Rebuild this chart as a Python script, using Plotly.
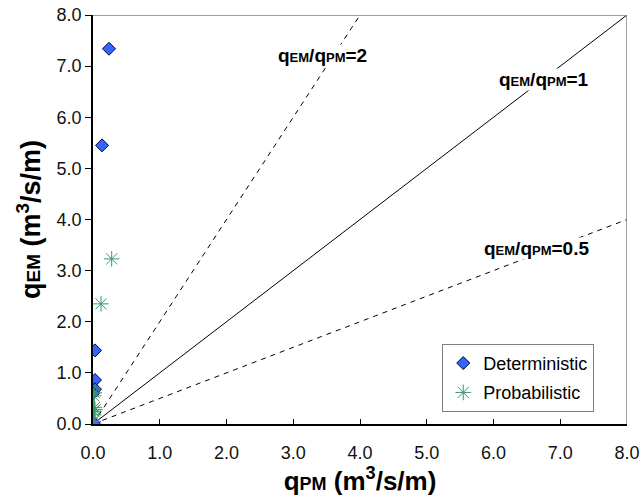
import plotly.graph_objects as go

det_x = [0.24, 0.135, 0.03, 0.03, 0.03, 0.0, 0.0, 0.01]
det_y = [7.34, 5.45, 1.44, 0.86, 0.68, 0.60, 0.0, 0.02]

prob_x = [0.28, 0.12, 0.02, 0.01, 0.02, 0.01, 0.03, 0.01, 0.0, 0.01]
prob_y = [3.23, 2.35, 0.61, 0.55, 0.32, 0.25, 0.28, 0.18, 0.05, 0.0]

ratios = [2, 1, 0.5]
ratio_dash = ["5px,5px", "solid", "5px,5px"]
ratio_labels = ["=2", "=1", "=0.5"]
label_x = [2.76, 6.07, 5.84]
label_y = [7.2, 6.73, 3.44]

AX_MAX = 8.0
tick_vals = [0, 1, 2, 3, 4, 5, 6, 7, 8]

FAM = "Liberation Sans, Arial"

fig = go.Figure()

for r, d in zip(ratios, ratio_dash):
    xe = min(AX_MAX, AX_MAX / r)
    fig.add_trace(go.Scatter(x=[0, xe], y=[0, r * xe], mode="lines",
                             line=dict(color="black", width=1, dash=d),
                             showlegend=False, hoverinfo="skip"))

fig.add_trace(go.Scatter(x=det_x, y=det_y, mode="markers", name="Deterministic",
                         legendgroup="a",
                         marker=dict(symbol="diamond", size=10, color="#3366FF",
                                     line=dict(color="#000033", width=1))))
fig.add_trace(go.Scatter(x=prob_x, y=prob_y, mode="markers", name="Probabilistic",
                         legendgroup="b",
                         marker=dict(symbol="asterisk-open", size=13, color="#339966",
                                     line=dict(color="#339966", width=1))))

small = "<span style='font-size:13px'>"
for lab, lx, ly in zip(ratio_labels, label_x, label_y):
    fig.add_annotation(x=lx, y=ly, xanchor="left", yanchor="middle", showarrow=False,
                       text="<b>q" + small + "EM</span>/q" + small + "PM</span>" + lab + "</b>",
                       font=dict(family=FAM, size=19, color="black"),
                       bgcolor="white", borderpad=0)

# gray top and right frame
fig.add_shape(type="line", xref="x", yref="y", x0=0, x1=AX_MAX, y0=AX_MAX, y1=AX_MAX,
              line=dict(color="#808080", width=1.5))
fig.add_shape(type="line", xref="x", yref="y", x0=AX_MAX, x1=AX_MAX, y0=0, y1=AX_MAX,
              line=dict(color="#808080", width=1.5))

fig.update_layout(
    width=640, height=497,
    margin=dict(l=93, r=13, t=15, b=73),
    paper_bgcolor="white", plot_bgcolor="white",
    font=dict(family=FAM, size=18, color="black"),
    xaxis=dict(range=[0, AX_MAX], tickvals=tick_vals, tickformat=".1f", automargin=False,
               showgrid=False, zeroline=False, showline=True, linecolor="black",
               linewidth=1.5, ticks="inside", ticklen=5, tickcolor="black",
               ticklabeloverflow="allow", ticklabelstandoff=12,
               tickfont=dict(family=FAM, size=18, color="#111111"),
               title=dict(text="<b>q<span style='font-size:18px'>PM</span> (m<sup>3</sup>/s/m)</b>",
                          font=dict(family=FAM, size=26), standoff=8)),
    yaxis=dict(range=[0, AX_MAX], tickvals=tick_vals, tickformat=".1f", automargin=False,
               showgrid=False, zeroline=False, showline=True, linecolor="black",
               linewidth=1.5, ticks="outside", ticklen=6, tickcolor="black",
               ticklabeloverflow="allow",
               tickfont=dict(family=FAM, size=18, color="#111111"),
               title=dict(text="<b>q<span style='font-size:19px'>EM</span> (m<sup>3</sup>/s/m)</b>",
                          font=dict(family=FAM, size=27), standoff=8)),
    legend=dict(x=0.654, y=0.196, xanchor="left", yanchor="top",
                bordercolor="#808080", borderwidth=1, bgcolor="white",
                traceorder="grouped", tracegroupgap=3,
                font=dict(family=FAM, size=18),
                entrywidth=157),
)

fig.write_html("out.html", config={"displayModeBar": False},
               post_script="document.body.style.margin='0px';document.body.style.overflow='hidden';")
